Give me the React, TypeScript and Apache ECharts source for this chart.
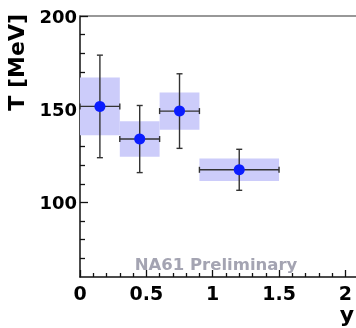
import React, { useEffect, useRef } from "react";
import * as echarts from "echarts";

// Rapidity bins and fitted temperatures
const binLow = [0, 0.3, 0.6, 0.9];
const binHigh = [0.3, 0.6, 0.9, 1.5];
const binCenter = [0.15, 0.45, 0.75, 1.2];
const temperature = [151.5, 134, 149, 117.5];
const statErr = [27.5, 18, 20, 11];
const sysErr = [15.5, 9.5, 10, 6];

// Axis ticks
const xMajorTicks = [0, 0.5, 1, 1.5, 2];
const xMinorTicks = [0.1, 0.2, 0.3, 0.4, 0.6, 0.7, 0.8, 0.9, 1.1, 1.2, 1.3, 1.4, 1.6, 1.7, 1.8, 1.9];
const yMajorTicks = [100, 150, 200];
const yMinorTicks = [70, 80, 90, 110, 120, 130, 140, 160, 170, 180, 190];

const FONT = "DejaVu Sans";

export default function App() {
  const ref = useRef<HTMLDivElement>(null);

  useEffect(() => {
    if (!ref.current) return;
    const chart = echarts.init(ref.current, null, { renderer: "svg" });

    const rows = temperature.map((t, i) => [binCenter[i], t, binLow[i], binHigh[i], statErr[i], sysErr[i]]);

    const lineStyle = { stroke: "#333", lineWidth: 1.4 };

    chart.setOption({
      animation: false,
      grid: { left: 80, top: 16, right: 0, bottom: 51, containLabel: false },
      xAxis: [
        {
          type: "value", min: 0, max: 2.08, position: "bottom",
          axisLine: { show: true, lineStyle: { color: "#111", width: 1.5 } },
          axisTick: { show: true, inside: true, length: 7, customValues: xMajorTicks, lineStyle: { color: "#111", width: 1.3 } },
          axisLabel: {
            show: true, customValues: xMajorTicks, margin: 6,
            fontFamily: FONT, fontWeight: "bold", fontSize: 19, color: "#000",
            formatter: (v: number) => String(v),
          },
          splitLine: { show: false },
        },
        {
          type: "value", min: 0, max: 2.08, position: "bottom",
          axisLine: { show: false },
          axisTick: { show: true, inside: true, length: 4, customValues: xMinorTicks, lineStyle: { color: "#111", width: 1.3 } },
          axisLabel: { show: false },
          splitLine: { show: false },
        },
        {
          type: "value", min: 0, max: 2.08, position: "top",
          axisLine: { show: true, lineStyle: { color: "#777", width: 1.5 } },
          axisTick: { show: false },
          axisLabel: { show: false },
          splitLine: { show: false },
        },
      ],
      yAxis: [
        {
          type: "value", min: 60, max: 200, position: "left",
          axisLine: { show: true, lineStyle: { color: "#111", width: 1.5 } },
          axisTick: { show: true, inside: true, length: 8, customValues: yMajorTicks, lineStyle: { color: "#111", width: 1.3 } },
          axisLabel: {
            show: true, customValues: yMajorTicks, margin: 3,
            fontFamily: FONT, fontWeight: "bold", fontSize: 18, color: "#000",
          },
          splitLine: { show: false },
        },
        {
          type: "value", min: 60, max: 200, position: "left",
          axisLine: { show: false },
          axisTick: { show: true, inside: true, length: 5, customValues: yMinorTicks, lineStyle: { color: "#111", width: 1.3 } },
          axisLabel: { show: false },
          splitLine: { show: false },
        },
      ],
      graphic: [
        {
          type: "text", x: 16, y: 14, rotation: Math.PI / 2,
          style: { text: "T [MeV]", align: "right", verticalAlign: "middle", font: `bold 22px "${FONT}"`, fill: "#000" },
        },
        {
          type: "text", x: 354, y: 314,
          style: { text: "y", align: "right", verticalAlign: "middle", font: `bold 22px "${FONT}"`, fill: "#000" },
        },
        {
          type: "text", x: 216, y: 264,
          style: { text: "NA61 Preliminary", align: "center", verticalAlign: "middle", font: `bold 16.5px "${FONT}"`, fill: "#a4a4b2" },
        },
      ],
      series: [
        {
          type: "custom",
          name: "systematic",
          xAxisIndex: 0, yAxisIndex: 0,
          data: rows,
          encode: { x: [0, 2, 3], y: 1 },
          renderItem: (params: any, api: any) => {
            const y = api.value(1), lo = api.value(2), hi = api.value(3), s = api.value(5);
            const p1 = api.coord([lo, y + s]);
            const p2 = api.coord([hi, y - s]);
            return {
              type: "rect",
              shape: { x: p1[0], y: p1[1], width: p2[0] - p1[0], height: p2[1] - p1[1] },
              style: { fill: "#ccccfa" },
            };
          },
          z: 1,
        },
        {
          type: "custom",
          name: "statistical",
          xAxisIndex: 0, yAxisIndex: 0,
          data: rows,
          encode: { x: [0, 2, 3], y: 1 },
          renderItem: (params: any, api: any) => {
            const x = api.value(0), y = api.value(1), lo = api.value(2), hi = api.value(3), e = api.value(4);
            const c = api.coord([x, y]);
            const top = api.coord([x, y + e]);
            const bot = api.coord([x, y - e]);
            const left = api.coord([lo, y]);
            const right = api.coord([hi, y]);
            const cap = 3;
            const seg = (x1: number, y1: number, x2: number, y2: number) => ({
              type: "line", shape: { x1, y1, x2, y2 }, style: lineStyle,
            });
            return {
              type: "group",
              children: [
                seg(c[0], top[1], c[0], bot[1]),
                seg(c[0] - cap, top[1], c[0] + cap, top[1]),
                seg(c[0] - cap, bot[1], c[0] + cap, bot[1]),
                seg(left[0], c[1], right[0], c[1]),
                seg(left[0], c[1] - cap, left[0], c[1] + cap),
                seg(right[0], c[1] - cap, right[0], c[1] + cap),
              ],
            };
          },
          z: 2,
        },
        {
          type: "scatter",
          name: "T",
          xAxisIndex: 0, yAxisIndex: 0,
          data: binCenter.map((x, i) => [x, temperature[i]]),
          symbol: "circle",
          symbolSize: 11,
          itemStyle: { color: "#0a1cff", opacity: 1 },
          z: 3,
        },
      ],
    });

    return () => chart.dispose();
  }, []);

  return <div ref={ref} style={{ position: "fixed", left: 0, top: 0, width: 356, height: 328 }} />;
}
